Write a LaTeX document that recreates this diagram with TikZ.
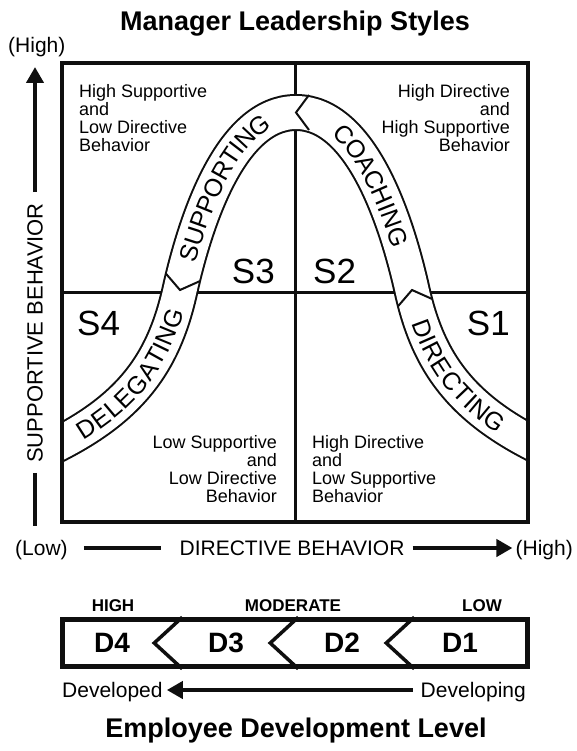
\documentclass[tikz,border=0pt]{standalone}
\usepackage{fontspec}
\setmainfont{Liberation Sans}
\newfontfamily\bandfont[LetterSpace=6]{Liberation Sans}
\newcommand\bandfmt{\bandfont\fontsize{25}{25}\selectfont}
\usetikzlibrary{positioning, calc, arrows.meta, decorations.text}
\definecolor{inkblack}{RGB}{15,15,15}
\tikzset{
    frameline/.style={line width=4.5pt, draw=inkblack},
    gridline/.style={line width=3pt, draw=inkblack},
    bandline/.style={line width=2pt, draw=inkblack, double=white, double distance=33pt},
    chevron/.style={line width=2pt, draw=inkblack, line join=miter},
    barchevron/.style={line width=3.5pt, draw=inkblack, line join=miter},
    quadtext/.style={font=\fontsize{18}{18}\selectfont, inner sep=0pt},
    stylelabel/.style={font=\fontsize{35}{35}\selectfont, inner sep=0pt},
    axistext/.style={font=\fontsize{21}{21}\selectfont, inner sep=0pt, text height=15pt, text depth=0pt},
    headtext/.style={font=\fontsize{27}{30}\selectfont\bfseries, inner sep=0pt},
    leveltext/.style={font=\fontsize{17}{17}\selectfont\bfseries, inner sep=0pt},
    devlabel/.style={font=\fontsize{28}{28}\selectfont\bfseries, inner sep=0pt},
    axisline/.style={line width=4pt, draw=inkblack},
    axisarrow/.style={-{Triangle[length=16pt, width=17pt]}, line width=4pt, draw=inkblack},
    bandword/.style={decorate, decoration={text along path, text align=center, raise=-9pt, text={|\bandfmt|#1}}}
}

\begin{document}
\begin{tikzpicture}[x=1pt, y=-1pt]
    \useasboundingbox (0,0) rectangle (576,751);

    % 1. Title
    \node[headtext, anchor=base] (title) at (295,31) {Manager Leadership Styles};

    % 2. Grid
    \node[minimum width=466pt, minimum height=459pt, inner sep=0pt] (grid) at (295,292.5) {};
    \draw[gridline] (grid.north) -- (grid.south);
    \draw[gridline] (grid.west) -- (grid.east);

    % quadrant texts
    \node[quadtext, anchor=north west, align=left] (hsld) at (79,84) {High Supportive\\and\\Low Directive\\Behavior};
    \node[quadtext, anchor=north east, align=right] (hdhs) at (510,84) {High Directive\\and\\High Supportive\\Behavior};
    \node[quadtext, anchor=north east, align=right] (lsld) at (277,435) {Low Supportive\\and\\Low Directive\\Behavior};
    \node[quadtext, anchor=north west, align=left] (hdls) at (312,435) {High Directive\\and\\Low Supportive\\Behavior};

    % style labels
    \node[stylelabel, anchor=base east] (s3) at (275,283) {S3};
    \node[stylelabel, anchor=base west] (s2) at (313,283) {S2};
    \node[stylelabel, anchor=base west] (s4) at (77,335) {S4};
    \node[stylelabel, anchor=base east] (s1) at (510,335) {S1};

    % 3. Bell curve band
    \coordinate (bandW) at (40,453.5);
    \coordinate (endW) at (62,442);
    \coordinate (tipSD) at (180,290);
    \coordinate (tipCS) at (296,112.5);
    \coordinate (tipDC) at (412,290);
    \coordinate (endE) at (530,442);
    \coordinate (bandE) at (552,453.5);

    \begin{scope}
        \clip (grid.north west) rectangle (grid.south east);
        \draw[bandline] (bandW) -- (endW) .. controls (136,403) and (165,357) .. (tipSD)
            .. controls (195,223) and (230,112.5) .. (tipCS)
            .. controls (362,112.5) and (397,223) .. (tipDC)
            .. controls (427,357) and (456,403) .. (endE) -- (bandE);
    \end{scope}

    % dividers
    \draw[chevron] ($(tipSD)+(19.9,-8.9)$) -- (tipSD) -- ($(tipSD)+(-14.2,-16.5)$);
    \draw[chevron] ($(tipCS)+(13,-17.5)$) -- (tipCS) -- ($(tipCS)+(13,17.5)$);
    \draw[chevron] ($(tipDC)+(19.9,8.9)$) -- (tipDC) -- ($(tipDC)+(-14.2,16.5)$);

    % words along the band
    \path[bandword=DELEGATING] (endW) .. controls (136,403) and (165,357) .. (tipSD);
    \path[bandword=SUPPORTING] (tipSD) .. controls (195,223) and (230,112.5) .. (tipCS);
    \path[bandword=COACHING] (tipCS) .. controls (362,112.5) and (397,223) .. (tipDC);
    \path[bandword=DIRECTING] (tipDC) .. controls (427,357) and (456,403) .. (endE);

    \draw[frameline] (grid.north west) rectangle (grid.south east);

    % 4. Axes
    \node[axistext, anchor=base west] (yhigh) at (8,53) {(High)};
    \coordinate (ytip) at (35,67);
    \coordinate (ybottom) at (35,526);
    \node[axistext, font=\fontsize{22}{22}\selectfont, rotate=90] (ylabel) at (35,333) {SUPPORTIVE BEHAVIOR};
    \draw[axisarrow] ($(ylabel.east)+(0,-11)$) -- (ytip);
    \draw[axisline] ($(ylabel.west)+(0,10)$) -- (ybottom);

    \node[axistext, anchor=west] (xlow) at (15,548) {(Low)};
    \node[axistext] (xlabel) at (292,548) {DIRECTIVE BEHAVIOR};
    \node[axistext, anchor=east] (xhigh) at (573,548) {(High)};
    \draw[axisline] ($(xlow.east)+(16,0)$) -- ($(xlabel.west)+(-18,0)$);
    \draw[axisarrow] ($(xlabel.east)+(8,0)$) -- ($(xhigh.west)+(-3,0)$);

    % 5. Development level bar
    \node[leveltext, anchor=base] (lvhigh) at (113,611) {HIGH};
    \node[leveltext, anchor=base] (lvmod) at (293,611) {MODERATE};
    \node[leveltext, anchor=base] (lvlow) at (482,611) {LOW};

    \node[frameline, minimum width=465pt, minimum height=47pt, inner sep=0pt] (devbar) at (295,643) {};
    \foreach \cx in {94, 210, 326} {
        \draw[barchevron] ($(devbar.north west)+(\cx+28,0)$) -- ($(devbar.west)+(\cx,0)$) -- ($(devbar.south west)+(\cx+28,0)$);
    }
    \node[devlabel] (d4) at (112,643) {D4};
    \node[devlabel] (d3) at (226,643) {D3};
    \node[devlabel] (d2) at (342,643) {D2};
    \node[devlabel] (d1) at (460,643) {D1};

    \node[axistext, anchor=west] (developed) at (62,690) {Developed};
    \node[axistext, anchor=east] (developing) at (526,690) {Developing};
    \draw[axisarrow] ($(developing.west)+(-8,0)$) -- ($(developed.east)+(4,0)$);

    \node[headtext, anchor=base] (footer) at (296,737) {Employee Development Level};

\end{tikzpicture}
\end{document}
